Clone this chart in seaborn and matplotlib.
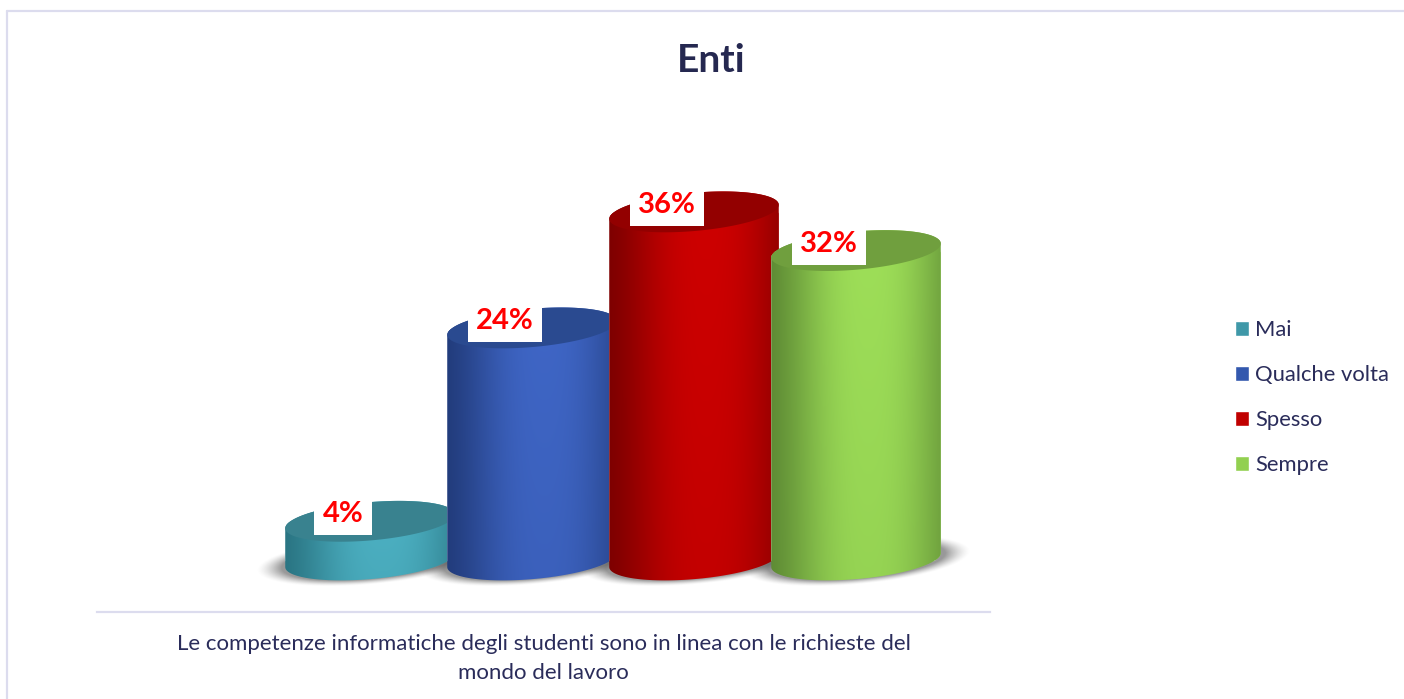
import numpy as np
import pandas as pd
import matplotlib
matplotlib.use('Agg')
import matplotlib.pyplot as plt
import seaborn as sns
from matplotlib.colors import to_rgb
from matplotlib.lines import Line2D
from matplotlib.patches import Polygon

# Data
categorie = ['Mai', 'Qualche volta', 'Spesso', 'Sempre']
valori = [4, 24, 36, 32]
titolo = 'Enti'
asse_x = 'Le competenze informatiche degli studenti sono in linea con le richieste del\nmondo del lavoro'

# Colours: legend, lit side, dark side, top face
col_legenda = ['#3F98A8', '#3358AE', '#C00000', '#92D050']
col_luce = ['#4DB2C4', '#3F66C6', '#CE0000', '#9EDF58']
col_bordo = ['#2A7583', '#223C7C', '#7E0000', '#5F8C35']
col_sopra = ['#39828F', '#2A4A90', '#930000', '#709F3E']
col_testo = '#2A2C5A'
col_linea = '#DCDCEE'

W, H = 1404, 699
sns.set_style('white')
plt.rcParams['font.family'] = ['Lato', 'DejaVu Sans']

fig = plt.figure(figsize=(W / 100, H / 100), dpi=100)
# plot area in pixels: x 97-990, y 100-612
ax = fig.add_axes([97 / W, 1 - 612 / H, (990 - 97) / W, (612 - 100) / H])

df = pd.DataFrame({'categoria': categorie, 'valore': valori})
sns.barplot(data=df, x='categoria', y='valore', hue='categoria', palette=col_legenda,
            saturation=1, dodge=False, width=1.05, ax=ax, legend=True)

ax.set_xlim(-1.685, 3.827)
ax.set_ylim(-5.38, 47.57)
xlim = ax.get_xlim()
ylim = ax.get_ylim()
sx = 893 / (xlim[1] - xlim[0])  # pixels per category
sy = 512 / (ylim[1] - ylim[0])  # pixels per percent point

B = 19.1
PHI = np.radians(5)


def ellisse(xc, yc, t, a, b):
    px = a * np.cos(t) * np.cos(PHI) - b * np.sin(t) * np.sin(PHI)
    py = a * np.cos(t) * np.sin(PHI) + b * np.sin(t) * np.cos(PHI)
    return xc + px / sx, yc + py / sy


def miscela(c1, c2, w):
    c1 = np.array(to_rgb(c1))
    c2 = np.array(to_rgb(c2))
    return c1 + (c2 - c1) * w[..., None]


for i, bar in enumerate(ax.patches[:len(valori)]):
    xc = bar.get_x() + bar.get_width() / 2
    val = bar.get_height()
    A = bar.get_width() * sx / 2
    delta = np.arctan(-(B / A) * np.tan(PHI))
    z = 3 + i

    # soft shadow under the cylinder
    gx = np.linspace(-A - 32, A + 32, 240)
    gy = np.linspace(-B - 14, B + 14, 80)
    xx, yy = np.meshgrid(gx, gy)
    uu = xx * np.cos(PHI) + yy * np.sin(PHI)
    vv = -xx * np.sin(PHI) + yy * np.cos(PHI)
    r = np.sqrt((uu / (A + 21)) ** 2 + ((vv + 1) / (B + 3)) ** 2)
    ombra = np.zeros(xx.shape + (4,))
    ombra[..., :3] = to_rgb('#5A5A5A')
    ombra[..., 3] = 0.62 * np.clip((1.08 - r) / 0.24, 0, 1) ** 1.5
    ax.imshow(ombra, extent=(xc + gx[0] / sx, xc + gx[-1] / sx, gy[0] / sy, gy[-1] / sy),
              origin='lower', aspect='auto', zorder=1)

    # body outline: lower arc of the base, upper arc of the top
    t1 = np.linspace(np.pi + delta, 2 * np.pi + delta, 120)
    t2 = np.linspace(delta, np.pi + delta, 120)
    bx, by = ellisse(xc, 0, t1, A, B)
    tx, ty = ellisse(xc, val, t2, A, B)
    corpo = Polygon(np.column_stack([np.r_[bx, tx], np.r_[by, ty]]), closed=True,
                    transform=ax.transData, fc='none', ec='none')
    ax.add_patch(corpo)
    bar.set_zorder(z)
    bar.set_clip_path(corpo)

    # cylinder shading
    u = np.linspace(0, 1, 300)
    v = np.linspace(0, 1, 60)
    uu, vv = np.meshgrid(u, v)
    luce = np.exp(-np.abs((uu - 0.57) / 0.45) ** 2.6)
    luce = (luce - luce.min()) / (luce.max() - luce.min())
    luce = luce * (0.86 + 0.14 * vv)
    img = ax.imshow(miscela(col_bordo[i], col_luce[i], luce),
                    extent=(xc - A / sx, xc + A / sx, -B / sy - 1, val + (B + 8) / sy),
                    origin='lower', aspect='auto', zorder=z, interpolation='bilinear')
    img.set_clip_path(corpo)

    # top face
    t = np.linspace(0, 2 * np.pi, 200)
    ex, ey = ellisse(xc, val, t, A, B)
    ax.add_patch(Polygon(np.column_stack([ex, ey]), closed=True, fc=col_sopra[i], ec='none', zorder=z))

    ax.annotate(f'{val:.0f}%', xy=(xc, val), xytext=(-27, 7), textcoords='offset pixels',
                ha='center', va='center', color='#FF0000', fontsize=21, fontweight='bold',
                bbox=dict(boxstyle='square,pad=0.28', fc='white', ec='none'), zorder=20)

ax.set_xlim(xlim)
ax.set_ylim(ylim)
ax.set_xticks([])
ax.set_yticks([])
ax.set_ylabel('')
ax.set_xlabel(asse_x, fontsize=16, color=col_testo, labelpad=16, linespacing=1.55)
sns.despine(ax=ax, left=True)
ax.spines['bottom'].set_color(col_linea)
ax.spines['bottom'].set_linewidth(1.6)
ax.patch.set_alpha(0)

sns.move_legend(ax, 'center left', bbox_to_anchor=(1215 / W, 1 - 397.5 / H),
                bbox_transform=fig.transFigure, frameon=False, title=None,
                fontsize=15.8, labelcolor=col_testo, handlelength=0.64, handleheight=0.64,
                handletextpad=0.28, labelspacing=1.14)

fig.text(711 / W, 1 - 60 / H, titolo, ha='center', va='center', fontsize=28,
         fontweight='bold', color='#252850')

# outer frame, open towards the right
x0 = 7 / W
y0 = 1 - 11 / H
fig.add_artist(Line2D([x0, x0], [0, y0], color=col_linea, lw=1.6))
fig.add_artist(Line2D([x0, 1], [y0, y0], color=col_linea, lw=1.6))

plt.savefig('out.png', dpi=100)
